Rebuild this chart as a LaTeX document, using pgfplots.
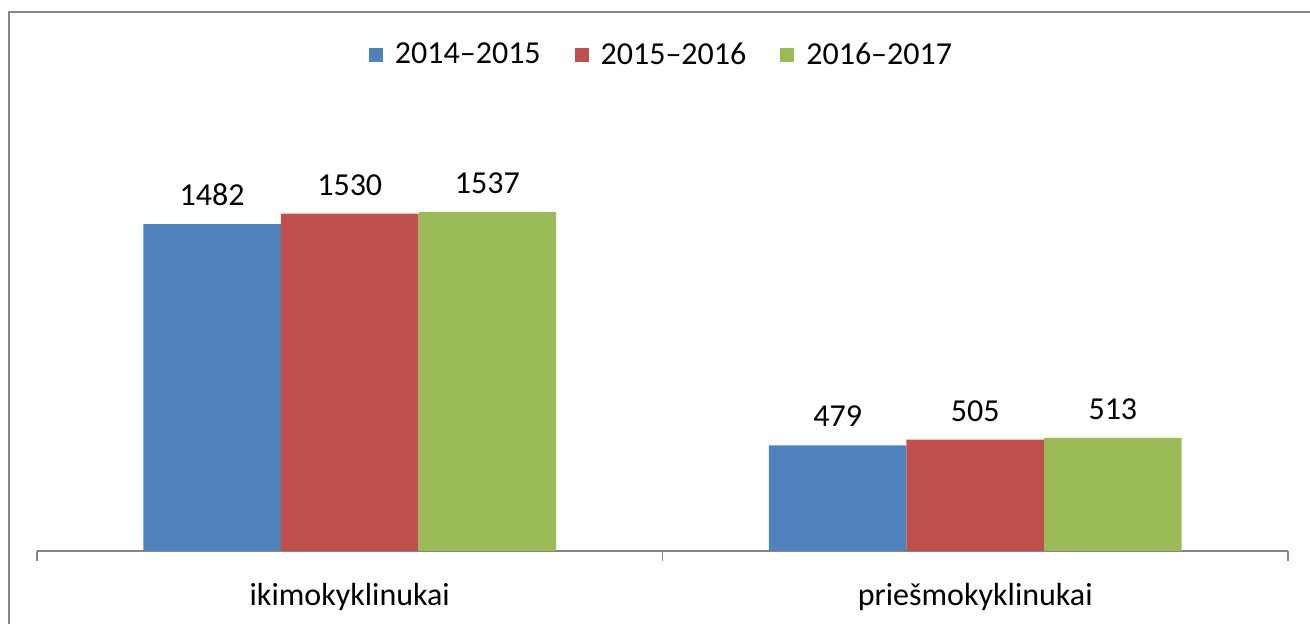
\documentclass[border=0pt]{standalone}
\usepackage{fontspec}
\setmainfont{Carlito}
\usepackage{pgfplots}
\pgfplotsset{compat=1.18}
\definecolor{sblue}{HTML}{4F81BD}
\definecolor{sred}{HTML}{C0504D}
\definecolor{sgreen}{HTML}{9BBB59}
\definecolor{axgray}{HTML}{868686}
\begin{document}
\begin{tikzpicture}
\useasboundingbox (-18.5pt,-36.5pt) rectangle (636.5pt,275.5pt);
\draw[axgray, line width=0.8pt] (-14pt,-40pt) -- (-14pt,269.5pt) -- (640pt,269.5pt);
\begin{axis}[
    scale only axis,
    width=625.5pt, height=220.5pt,
    ybar=0pt, bar width=0.22,
    xmin=-0.5, xmax=1.5,
    ymin=0, ymax=2000,
    axis y line=none,
    axis x line*=bottom,
    axis line style={draw=axgray, line width=0.7pt, -},
    xtick={0,1},
    xticklabels={ikimokyklinukai, priešmokyklinukai},
    major tick length=0pt,
    extra x ticks={-0.5,0.5,1.5},
    extra x tick labels={},
    extra x tick style={major tick length=5pt, tick align=outside,
        tick style={draw=axgray, line width=0.7pt}},
    xticklabel style={anchor=base, yshift=-27.5pt},
    tick label style={font=\fontsize{16}{19}\selectfont},
    nodes near coords,
    every node near coord/.append style={font=\fontsize{16}{19}\selectfont, anchor=south, inner sep=0pt, yshift=9pt, black},
    /pgf/number format/assume math mode=true,
    /pgf/number format/1000 sep={},
    legend columns=3,
    legend style={at={(rel axis cs:0.5,1.125)}, anchor=center, draw=none,
        font=\fontsize{16}{19}\selectfont,
        /tikz/every odd column/.append style={column sep=4pt},
        /tikz/every even column/.append style={column sep=15pt}},
    legend image code/.code={\fill[#1] (0pt,-3.5pt) rectangle (7pt,3.5pt);},
]
\addplot[fill=sblue, draw=none] coordinates {(0,1482) (1,479)};
\addplot[fill=sred, draw=none] coordinates {(0,1530) (1,505)};
\addplot[fill=sgreen, draw=none] coordinates {(0,1537) (1,513)};
\legend{2014–2015, 2015–2016, 2016–2017}
\end{axis}
\end{tikzpicture}
\end{document}
